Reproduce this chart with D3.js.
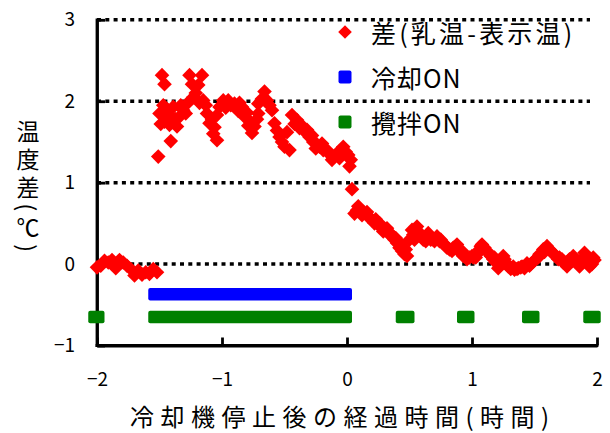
<!DOCTYPE html>
<html>
<head>
<meta charset="utf-8">
<script src="https://cdn.jsdelivr.net/npm/d3@7"></script>
<style>
  html, body { margin: 0; padding: 0; background: #fff; }
  svg { display: block; }
  text { font-family: "Noto Sans CJK JP", "Noto Sans", sans-serif; fill: #000; }
</style>
</head>
<body>
<svg id="chart" width="610" height="433"></svg>
<script>
// Elapsed time after the cooler stopped (hours) and milk-minus-display temperature difference (°C)
const diffTime = [
  -2.00, -1.97, -1.94, -1.91, -1.88, -1.85, -1.82, -1.79, -1.76, -1.73, -1.70, -1.67, -1.64, -1.61, -1.58, -1.55, -1.52,
  -1.51, -1.50, -1.48, -1.46, -1.46, -1.44, -1.42, -1.41, -1.39, -1.36, -1.34, -1.31, -1.28, -1.26, -1.24, -1.23,
  -1.19, -1.16, -1.15, -1.12, -1.10, -1.07, -1.04, -1.04, -1.02, -0.99, -0.95, -0.90, -0.87, -0.84, -0.82, -0.79,
  -0.76, -0.74, -0.71, -0.71, -0.68, -0.66, -0.64, -0.60, -0.58, -0.56, -0.54, -0.50, -0.46, -0.44, -0.40, -0.38,
  -0.34, -0.32, -0.30, -0.27, -0.24, -0.22, -0.19, -0.16, -0.12, -0.08, -0.05, -0.03, 0.01, 0.02, 0.04,
  0.06, 0.09, 0.11, 0.14, 0.17, 0.20, 0.22, 0.25, 0.28, 0.30, 0.33, 0.36, 0.38, 0.40, 0.42, 0.44, 0.46, 0.48,
  0.50, 0.52, 0.54, 0.56, 0.58, 0.60, 0.63, 0.65, 0.67, 0.69, 0.72, 0.74, 0.77, 0.80, 0.82, 0.85, 0.88, 0.90,
  0.93, 0.96, 0.98, 1.01, 1.04, 1.06, 1.08, 1.10, 1.12, 1.15, 1.17, 1.19, 1.21, 1.23, 1.25, 1.27, 1.29, 1.31,
  1.34, 1.37, 1.40, 1.42, 1.44, 1.46, 1.49, 1.51, 1.54, 1.57, 1.60, 1.62, 1.64, 1.67, 1.70, 1.73, 1.76, 1.78,
  1.81, 1.83, 1.86, 1.88, 1.90, 1.92, 1.94, 1.96, 1.98,
  -1.49, -1.47, -1.43, -1.37, -1.33, -1.29, -1.21, -1.18, -1.13, -1.08, -1.06, -0.97, -0.93, -0.86, -0.80,
  -0.78, -0.72, -0.62, -0.52, -0.48, -0.42, -0.36, -0.28, -0.25, -0.20, -0.14, -0.10, -0.06, -0.01, 0.03,
  0.08, 0.12, 0.16, 0.19, 0.23, 0.26, 0.29, 0.32, 0.35, 0.37, 0.39, 0.43, 0.47, 0.53, 0.57, 0.61, 0.64,
  0.66, 0.70, 0.75, 0.79, 0.84, 0.87, 0.92, 0.95, 1.00, 1.03, 1.07, 1.14, 1.18, 1.26, 1.33, 1.36, 1.39,
  1.47, 1.53, 1.58, 1.66, 1.69, 1.72, 1.75, 1.80, 1.85, 1.87, 1.91, 1.97
];
const diffValue = [
  -0.04, -0.02, 0.04, 0.02, 0.05, -0.05, 0.05, 0.02, -0.02, -0.06, -0.14, -0.08, -0.13, -0.10, -0.12, -0.06, -0.10,
  1.32, 1.85, 2.32, 2.21, 1.75, 1.90, 1.71, 1.51, 1.93, 1.69, 1.81, 1.89, 1.97, 2.32, 2.21, 2.05,
  2.20, 2.32, 2.01, 1.85, 1.73, 1.60, 1.52, 1.83, 1.93, 2.01, 2.01, 1.97, 1.88, 1.93, 1.81, 1.70,
  1.61, 1.69, 1.85, 1.97, 2.03, 2.12, 2.01, 1.89, 1.73, 1.64, 1.56, 1.44, 1.40, 1.83, 1.77, 1.67,
  1.63, 1.65, 1.56, 1.50, 1.47, 1.44, 1.40, 1.40, 1.28, 1.36, 1.40, 1.44, 1.34, 1.20, 0.92,
  0.62, 0.71, 0.66, 0.63, 0.58, 0.54, 0.50, 0.48, 0.45, 0.42, 0.38, 0.34, 0.30, 0.26, 0.20, 0.16, 0.12, 0.10,
  0.30, 0.42, 0.30, 0.46, 0.38, 0.34, 0.28, 0.38, 0.30, 0.30, 0.34, 0.28, 0.26, 0.20, 0.18, 0.20, 0.24, 0.15,
  0.10, 0.06, 0.08, 0.08, 0.12, 0.18, 0.24, 0.20, 0.16, 0.10, 0.06, 0.02, -0.05, 0.04, 0.10, 0.02, -0.03, -0.06,
  -0.07, -0.05, -0.03, -0.05, 0.01, -0.02, 0.03, 0.06, 0.12, 0.18, 0.22, 0.18, 0.14, 0.10, 0.08, 0.02, -0.03, 0.06,
  0.10, 0.04, -0.03, 0.06, 0.14, 0.06, -0.03, 0.00, 0.05,
  1.72, 1.95, 1.85, 1.78, 1.95, 1.85, 2.10, 1.98, 1.95, 1.78, 1.68, 1.92, 1.95, 1.98, 1.86,
  1.76, 1.78, 1.95, 1.50, 1.62, 1.72, 1.70, 1.58, 1.42, 1.48, 1.35, 1.32, 1.30, 1.38, 1.28,
  0.66, 0.60, 0.64, 0.56, 0.55, 0.50, 0.40, 0.44, 0.37, 0.34, 0.32, 0.25, 0.18, 0.36, 0.40, 0.30, 0.33,
  0.34, 0.28, 0.30, 0.22, 0.16, 0.22, 0.16, 0.10, 0.10, 0.08, 0.22, 0.12, 0.08, 0.06, -0.03, -0.06, -0.04,
  0.00, 0.08, 0.15, 0.12, 0.06, 0.06, 0.00, 0.05, 0.02, 0.00, 0.10, 0.08
];

// Periods when the cooler / the stirrer is running, drawn as bands at fixed levels
const coolStart = [-1.59];
const coolEnd   = [0.04];
const coolLevel = -0.37;
const stirStart = [-2.07, -1.59, 0.39, 0.88, 1.40, 1.89];
const stirEnd   = [-1.94, 0.04, 0.54, 1.02, 1.54, 2.03];
const stirLevel = -0.65;

const xTicks = [-2, -1, 0, 1, 2];
const yTicks = [-1, 0, 1, 2, 3];
const gridValues = [0, 1, 2, 3];

const legendLabels = ["差(乳温-表示温)", "冷却ON", "攪拌ON"];
const xTitle = "冷却機停止後の経過時間(時間)";
const yTitle = "温度差(℃)";

const RED = "#ff0000", BLUE = "#0000ff", GREEN = "#008000";

const svg = d3.select("#chart");
svg.append("rect").attr("width", 610).attr("height", 433).attr("fill", "#fff");

const x = d3.scaleLinear().domain([-2, 2]).range([97, 597]);
const y = d3.scaleLinear().domain([-1, 3]).range([345.5, 19.8]);

// dotted horizontal gridlines
svg.append("g").selectAll("line").data(gridValues).join("line")
  .attr("x1", x(-2)).attr("x2", 590)
  .attr("y1", d => y(d)).attr("y2", d => y(d))
  .attr("stroke", "#000").attr("stroke-width", 3.5)
  .attr("stroke-dasharray", "4 4.3");

// axes with inward ticks
const yAxis = d3.axisLeft(y).tickValues(yTicks).tickSizeInner(-8).tickSizeOuter(0).tickPadding(22)
  .tickFormat(d3.format("d"));
const xAxis = d3.axisBottom(x).tickValues(xTicks).tickSizeInner(-8).tickSizeOuter(0).tickPadding(27)
  .tickFormat(d3.format("d"));

const gy = svg.append("g").attr("transform", `translate(${x(-2)},0)`).call(yAxis);
const gx = svg.append("g").attr("transform", `translate(0,${y(-1)})`).call(xAxis);
[gx, gy].forEach(g => {
  g.attr("color", "#000");
  g.selectAll("path, line")
    .attr("stroke", "#000").attr("stroke-width", 2.8);
  g.selectAll(".tick text").attr("font-size", 19).attr("fill", "#000")
    .style("font-family", "'Noto Sans CJK JP', sans-serif");
});

// axis spines drawn from the scales' extents
const spines = svg.append("g");
spines.append("line")
  .attr("x1", x(-2)).attr("x2", x(-2)).attr("y1", y(3) - 1.4).attr("y2", y(-1) + 1.4)
  .attr("stroke", "#000").attr("stroke-width", 2.8);
spines.append("line")
  .attr("x1", x(-2) - 1.4).attr("x2", x(2) + 1.4).attr("y1", y(-1)).attr("y2", y(-1))
  .attr("stroke", "#000").attr("stroke-width", 2.8);

// on/off bands
const bandH = 12.4;
svg.append("g").selectAll("rect").data(coolStart.map((s, i) => [s, coolEnd[i]])).join("rect")
  .attr("x", d => x(d[0])).attr("width", d => x(d[1]) - x(d[0]))
  .attr("y", y(coolLevel) - bandH / 2).attr("height", bandH)
  .attr("rx", 2).attr("fill", BLUE);
svg.append("g").selectAll("rect").data(stirStart.map((s, i) => [s, stirEnd[i]])).join("rect")
  .attr("x", d => x(d[0])).attr("width", d => x(d[1]) - x(d[0]))
  .attr("y", y(stirLevel) - bandH / 2).attr("height", bandH)
  .attr("rx", 2).attr("fill", GREEN);

// diamond markers
const r = 7.3;
const diamond = `M0,${-r}L${r},0L0,${r}L${-r},0Z`;
svg.append("g").selectAll("path").data(diffTime.map((t, i) => [t, diffValue[i]])).join("path")
  .attr("d", diamond)
  .attr("transform", d => `translate(${x(d[0])},${y(d[1])})`)
  .attr("fill", RED);

// legend
const legY = [32, 77, 122];
const legSpacing = [3.2, 1, 1];
const leg = svg.append("g");
leg.append("path").attr("d", `M0,-6.8L6.8,0L0,6.8L-6.8,0Z`)
  .attr("transform", `translate(345,${legY[0]})`).attr("fill", RED);
leg.append("rect").attr("x", 338.5).attr("y", legY[1] - 6.5).attr("width", 13).attr("height", 13)
  .attr("rx", 2).attr("fill", BLUE);
leg.append("rect").attr("x", 338.5).attr("y", legY[2] - 6.5).attr("width", 13).attr("height", 13)
  .attr("rx", 2).attr("fill", GREEN);
leg.selectAll("text").data(legendLabels).join("text")
  .attr("x", 371).attr("y", (d, i) => legY[i])
  .attr("dominant-baseline", "central")
  .attr("font-size", 25).attr("letter-spacing", (d, i) => legSpacing[i])
  .text(d => d);

// axis titles
svg.append("text")
  .attr("x", 130).attr("y", 415)
  .attr("dominant-baseline", "central")
  .attr("font-size", 24).attr("letter-spacing", 6.5)
  .text(xTitle);

// vertical y title: CJK upright, brackets turned sideways
svg.append("text")
  .attr("x", 28).attr("y", 119.5)
  .style("writing-mode", "vertical-rl")
  .style("text-orientation", "mixed")
  .attr("font-size", 23).attr("letter-spacing", 5)
  .text(yTitle);
</script>
</body>
</html>
